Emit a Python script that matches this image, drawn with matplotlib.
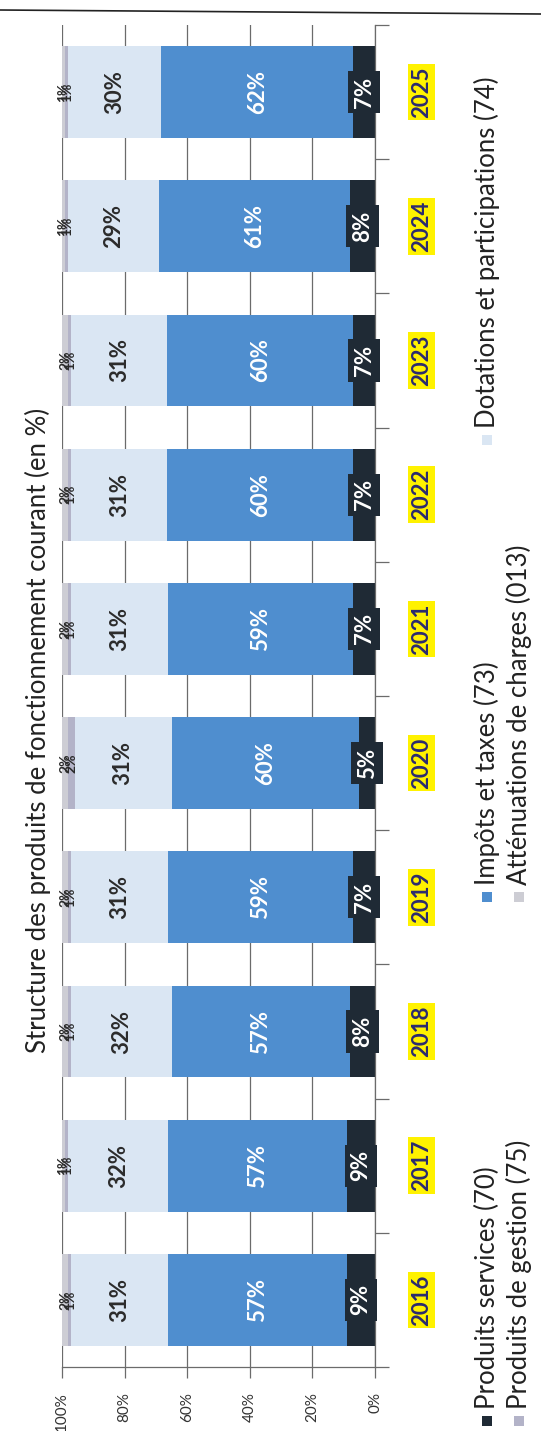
import matplotlib
matplotlib.use("Agg")
import matplotlib.pyplot as plt
from matplotlib.patches import Rectangle
from matplotlib.lines import Line2D
import numpy as np

plt.rcParams["font.family"] = ["Lato", "DejaVu Sans"]

# data (in %)
years = ["2016", "2017", "2018", "2019", "2020", "2021", "2022", "2023", "2024", "2025"]
services_70 = [9, 9, 8, 7, 5, 7, 7, 7, 8, 7]
impots_73 = [57, 57, 57, 59, 60, 59, 60, 60, 61, 62]
dotations_74 = [31, 32, 32, 31, 31, 31, 31, 31, 29, 30]
gestion_75 = [1, 1, 1, 1, 2, 1, 1, 1, 1, 1]
attenuations_013 = [2, 1, 2, 2, 2, 2, 2, 2, 1, 1]

series = [
    ("Produits services (70)", services_70, "#1f2a35", "white", 16),
    ("Impôts et taxes (73)", impots_73, "#4f8ecf", "white", 16),
    ("Dotations et participations (74)", dotations_74, "#dae6f3", "#2b2b2b", 16),
    ("Produits de gestion (75)", gestion_75, "#b3b3c8", "#2b2b2b", 10),
    ("Atténuations de charges (013)", attenuations_013, "#cdcdd4", "#2b2b2b", 10),
]

W, H = 541, 1431
fig = plt.figure(figsize=(W / 100, H / 100), dpi=100)
fig.patch.set_facecolor("white")

# axes in pixel box: value axis runs right (0%) to left (100%)
x0, x1, ytop, ybot = 62, 375, 25, 1367
ax = fig.add_axes([x0 / W, 1 - ybot / H, (x1 - x0) / W, (ybot - ytop) / H])

pos = np.arange(len(years))
totals = np.sum([s[1] for s in series], axis=0)
left = np.zeros(len(years))
for name, vals, col, tcol, fs in series:
    share = np.array(vals) / totals * 100
    ax.barh(pos, share, left=left, height=0.685, color=col, zorder=2)
    for p, l, w, v in zip(pos, left, share, vals):
        box = None
        if col == "#1f2a35":
            box = dict(boxstyle="square,pad=0.25", fc=col, ec="none")
        ax.text(l + w / 2, p, f"{v}%", rotation=90, ha="center", va="center",
                color=tcol, fontsize=fs, fontweight="bold", bbox=box, zorder=4)
    left += share

ax.set_xlim(100, 0)
ax.set_ylim(-0.5, len(years) - 0.5)

ax.set_xticks([0, 20, 40, 60, 80, 100])
ax.set_xticklabels(["0%", "20%", "40%", "60%", "80%", "100%"], rotation=90,
                   fontsize=11, color="#333333")
ax.tick_params(axis="x", direction="out", length=8, width=0.9, color="#6b6b6b", pad=10)
ax.xaxis.grid(True, color="#6b6b6b", lw=0.9)
ax.set_axisbelow(True)

ax.yaxis.tick_right()
ax.set_yticks(pos)
ax.set_yticklabels(years, rotation=90, fontsize=16, fontweight="bold",
                   color="#2a2a70", va="center")
ax.set_yticks(np.arange(-0.5, len(years), 1), minor=True)
ax.tick_params(axis="y", which="major", length=0, pad=26)
ax.tick_params(axis="y", which="minor", direction="out", length=10, width=0.9,
               color="#6b6b6b")
for lab in ax.get_yticklabels():
    lab.set_bbox(dict(boxstyle="square,pad=0.12", fc="#fff200", ec="none"))

for side in ["top", "left"]:
    ax.spines[side].set_visible(False)
for side in ["right", "bottom"]:
    ax.spines[side].set_color("#6b6b6b")
    ax.spines[side].set_linewidth(0.9)

# title (rotated with the page)
fig.text(38 / W, 1 - 730 / H, "Structure des produits de fonctionnement courant (en %)",
         rotation=90, ha="center", va="center", fontsize=18.5, color="#222222")

# legend, laid out in two rotated rows
legend_slots = [(487, 1421), (487, 897), (487, 440), (519, 1421), (519, 897)]
for (name, vals, col, tcol, fs), (lx, ly) in zip(series, legend_slots):
    s = 10
    fig.add_artist(Rectangle(((lx - s / 2) / W, 1 - (ly + s / 2) / H), s / W, s / H,
                             transform=fig.transFigure, fc=col, ec="none"))
    fig.text(lx / W, 1 - (ly - 12) / H, name, rotation=90, rotation_mode="anchor",
             ha="left", va="center", fontsize=18.5, color="#222222")

# page edge line from the scan
fig.add_artist(Line2D([0, 1], [1 - 10 / H, 1 - 14 / H], transform=fig.transFigure,
                      color="#222222", lw=1.2))

fig.savefig("out.png", dpi=100)
